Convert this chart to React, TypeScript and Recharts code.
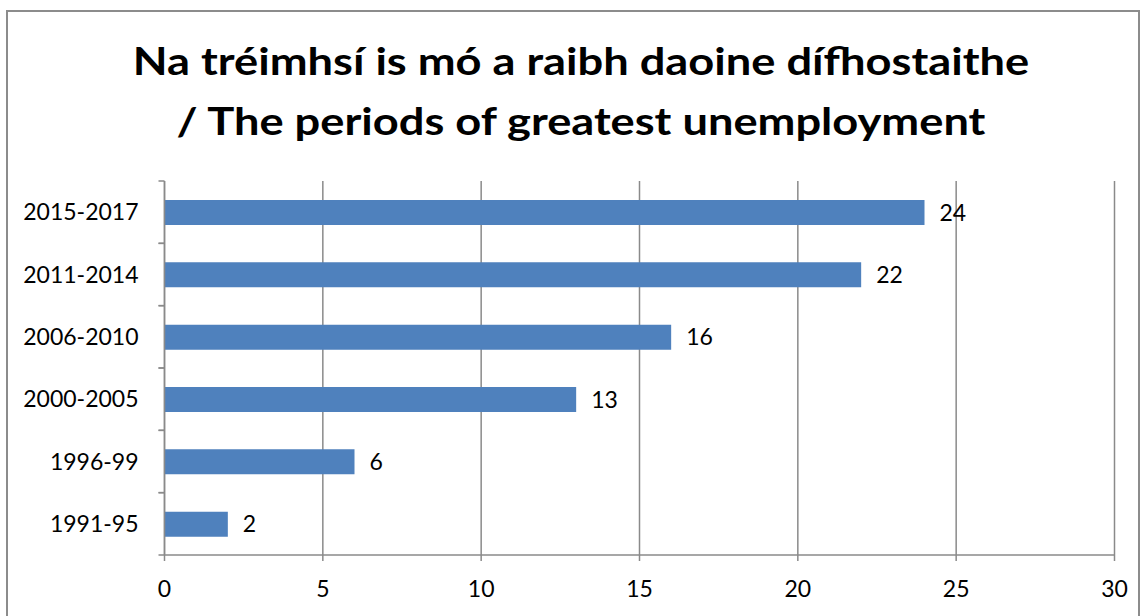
import React from 'react'
import { BarChart, Bar, XAxis, YAxis, CartesianGrid, LabelList } from 'recharts'

const periods = ['1991-95', '1996-99', '2000-2005', '2006-2010', '2011-2014', '2015-2017']
const counts = [2, 6, 13, 16, 22, 24]
const valueTicks = [0, 5, 10, 15, 20, 25, 30]
const titleLines = [
  'Na tréimhsí is mó a raibh daoine dífhostaithe',
  '/ The periods of greatest unemployment',
]

const FONT = 'Lato, "Open Sans", sans-serif'
const GRID = '#8a8a8a'
const TICK_SIZE = 6
const TICK_MARGIN = 20
const LABEL_SIZE = 23

const data = periods.map((period, i) => ({ period, count: counts[i] }))

// category label plus the small marks at the band edges (Excel style)
function PeriodTick(props: any) {
  const { x, y, payload } = props
  const half = payload?.offset ?? 0
  const axisX = x + TICK_MARGIN + TICK_SIZE
  return (
    <g>
      {half > 0 &&
        [y - half, y + half].map((ty) => (
          <line
            key={ty}
            x1={axisX - TICK_SIZE}
            x2={axisX}
            y1={ty}
            y2={ty}
            stroke={GRID}
            strokeWidth={1.5}
          />
        ))}
      <text
        x={x}
        y={y}
        dy="0.355em"
        textAnchor="end"
        fill="#000"
        fontSize={LABEL_SIZE}
        fontFamily={FONT}
      >
        {payload.value}
      </text>
    </g>
  )
}

export default function App() {
  return (
    <div
      style={{
        position: 'absolute',
        left: 0,
        top: 0,
        width: 1147,
        height: 616,
        overflow: 'hidden',
        background: '#fff',
        fontFamily: FONT,
      }}
    >
      <div
        style={{
          position: 'absolute',
          left: 6,
          top: 10,
          width: 1130,
          height: 640,
          border: '2px solid #8c8c8c',
        }}
      />
      <div
        style={{
          position: 'absolute',
          left: 0,
          top: 30,
          width: 1162,
          textAlign: 'center',
          fontWeight: 700,
          fontSize: 38,
          lineHeight: '60px',
          color: '#000',
        }}
      >
        {titleLines.map((t) => (
          <div key={t} style={{ transform: 'scaleX(1.19)' }}>
            {t}
          </div>
        ))}
      </div>
      <div style={{ position: 'absolute', left: 0, top: 0 }}>
        <BarChart
          width={1147}
          height={616}
          data={data}
          layout="vertical"
          margin={{ top: 181, right: 32.5, bottom: 21, left: 14.5 }}
        >
          <CartesianGrid horizontal={false} stroke={GRID} strokeWidth={1.5} />
          <XAxis
            type="number"
            domain={[0, 30]}
            ticks={valueTicks}
            interval={0}
            height={40}
            stroke={GRID}
            strokeWidth={1.5}
            tickSize={TICK_SIZE}
            tickMargin={TICK_MARGIN}
            tick={{ fill: '#000', fontSize: LABEL_SIZE, fontFamily: FONT }}
          />
          <YAxis
            type="category"
            dataKey="period"
            reversed
            width={150}
            stroke={GRID}
            strokeWidth={1.5}
            tickLine={false}
            tickSize={TICK_SIZE}
            tickMargin={TICK_MARGIN}
            interval={0}
            tick={<PeriodTick />}
          />
          <Bar dataKey="count" fill="#4F81BD" barSize={25} isAnimationActive={false}>
            <LabelList
              dataKey="count"
              position="right"
              offset={15}
              fill="#000"
              fontSize={LABEL_SIZE}
              fontFamily={FONT}
            />
          </Bar>
        </BarChart>
      </div>
    </div>
  )
}
